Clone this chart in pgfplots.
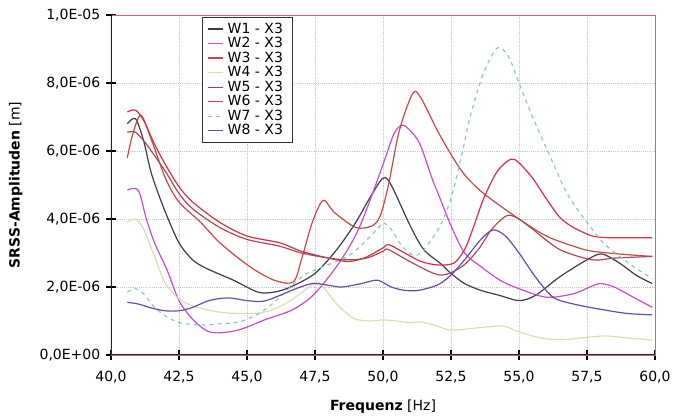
\documentclass[border=0pt]{standalone}
\usepackage{fontspec}
\setmainfont{DejaVu Sans}
\usepackage{pgfplots}
\pgfplotsset{compat=1.18}
\definecolor{wA}{HTML}{3C3C4C}
\definecolor{wB}{HTML}{C050C8}
\definecolor{wC}{HTML}{C84848}
\definecolor{wD}{HTML}{D6E0B0}
\definecolor{wE}{HTML}{D0304A}
\definecolor{wF}{HTML}{A84A5A}
\definecolor{wG}{HTML}{8CC8C0}
\definecolor{wH}{HTML}{6A4AA0}
\definecolor{frameR}{HTML}{D86070}
\begin{document}
\begin{tikzpicture}
\begin{axis}[
  scale only axis, width=408pt, height=255pt,
  xmin=40, xmax=60, ymin=0, ymax=10,
  xtick={40,42.5,...,60}, ytick={0,2,...,10},
  xtick pos=bottom, ytick pos=left,
  yticklabels={{0,0E+00},{2,0E-06},{4,0E-06},{6,0E-06},{8,0E-06},{1,0E-05}},
  tick label style={font=\fontsize{10.5}{12}\selectfont},
  xticklabel style={yshift=-5pt, /pgf/number format/.cd, fixed, fixed zerofill, precision=1, use comma, assume math mode=true},
  yticklabel style={xshift=-1pt},
  tick align=center, major tick length=7pt,
  tick style={black, line width=0.8pt},
  grid=major, major grid style={densely dotted, black!22},
  axis line style={frameR, line width=0.6pt},
  xlabel={\textbf{Frequenz} [Hz]}, ylabel={\textbf{SRSS-Amplituden} [m]},
  label style={font=\fontsize{10.5}{12}\selectfont},
  xlabel style={yshift=-6pt}, ylabel style={yshift=6pt},
  every axis plot/.append style={line width=0.9pt, smooth, tension=0.5},
  legend style={at={(0.167,0.994)}, anchor=north west, draw=black!80, line width=0.8pt,
    fill=white, font=\fontsize{10.5}{12}\selectfont, inner xsep=4pt, inner ysep=2pt, row sep=-2.4pt,
    nodes={inner xsep=3pt}},
  legend cell align=left,
  legend image code/.code={\draw[#1, line width=1pt] (0pt,0pt) -- (11pt,0pt);},
]
\addplot[wA] coordinates {(40.6,6.8) (40.9,6.95) (41.2,6.3) (41.5,5.3) (42.0,4.2) (42.5,3.3) (43.0,2.8) (43.5,2.55) (44.5,2.2) (45.4,1.85) (46.0,1.85) (46.6,2.0) (47.5,2.4) (48.3,3.1) (49.0,3.9) (49.5,4.6) (50.0,5.2) (50.3,5.0) (51.0,3.8) (51.5,3.1) (52.1,2.7) (52.5,2.4) (53.0,2.1) (53.6,1.9) (54.3,1.75) (55.0,1.6) (55.6,1.75) (56.5,2.3) (57.5,2.8) (58.05,2.97) (58.7,2.7) (59.3,2.35) (59.9,2.1)};
\addlegendentry{W1 - X3}
\addplot[wB] coordinates {(40.6,4.85) (41.0,4.85) (41.3,4.0) (41.6,3.3) (42.06,2.5) (42.5,1.6) (43.0,1.05) (43.5,0.72) (43.9,0.65) (44.5,0.7) (45.0,0.82) (45.7,1.05) (46.6,1.3) (47.2,1.6) (47.6,1.9) (48.2,2.5) (48.7,3.1) (49.1,3.7) (49.5,4.5) (50.0,5.6) (50.4,6.5) (50.7,6.76) (51.0,6.6) (51.36,6.2) (51.8,5.2) (52.1,4.6) (52.5,3.8) (53.0,3.0) (53.6,2.6) (54.3,2.2) (55.0,1.95) (56.0,1.7) (57.0,1.8) (57.6,2.0) (58.0,2.1) (58.5,2.0) (59.2,1.7) (59.9,1.4)};
\addlegendentry{W2 - X3}
\addplot[wC] coordinates {(40.6,5.8) (40.8,6.5) (41.1,7.05) (41.5,6.3) (42.0,5.2) (42.5,4.5) (43.3,3.9) (44.0,3.3) (45.1,2.6) (46.0,2.2) (46.7,2.15) (47.0,2.8) (47.4,3.9) (47.8,4.55) (48.2,4.2) (49.0,3.75) (49.6,3.8) (49.9,4.1) (50.2,5.0) (50.6,6.6) (51.1,7.7) (51.4,7.55) (52.0,6.6) (52.5,5.9) (53.0,5.3) (53.7,4.75) (55.0,4.0) (56.0,3.5) (57.0,3.2) (57.7,3.05) (59.0,2.95) (59.9,2.9)};
\addlegendentry{W3 - X3}
\addplot[wD] coordinates {(40.6,3.9) (40.9,4.0) (41.2,3.7) (41.6,2.9) (42.0,2.1) (42.5,1.65) (43.0,1.45) (43.7,1.3) (44.4,1.23) (45.4,1.23) (46.0,1.35) (46.6,1.6) (47.2,1.95) (47.6,2.15) (47.9,1.9) (48.3,1.5) (48.7,1.2) (49.0,1.05) (49.5,1.0) (50.0,1.03) (50.5,1.0) (51.0,0.95) (51.4,0.97) (52.0,0.85) (52.5,0.73) (53.5,0.8) (54.4,0.85) (55.0,0.68) (55.8,0.5) (56.6,0.45) (57.5,0.52) (58.2,0.56) (59.0,0.5) (59.9,0.44)};
\addlegendentry{W4 - X3}
\addplot[wE] coordinates {(40.6,7.15) (40.9,7.2) (41.2,6.9) (41.6,6.2) (42.0,5.6) (42.5,4.95) (43.0,4.5) (44.0,3.9) (45.0,3.5) (46.2,3.3) (47.0,3.05) (48.0,2.85) (48.7,2.75) (49.3,2.85) (50.0,3.15) (50.2,3.25) (50.8,3.0) (51.4,2.75) (52.0,2.65) (52.6,2.7) (53.0,3.1) (53.3,3.7) (53.7,4.6) (54.2,5.4) (54.7,5.76) (55.0,5.65) (55.5,5.2) (56.0,4.6) (56.5,4.05) (57.0,3.75) (57.7,3.5) (58.3,3.45) (59.0,3.45) (59.9,3.45)};
\addlegendentry{W5 - X3}
\addplot[wF] coordinates {(40.6,6.55) (40.9,6.55) (41.3,6.2) (42.0,5.4) (42.5,4.75) (43.0,4.3) (44.0,3.75) (45.0,3.4) (46.2,3.2) (47.0,3.0) (48.0,2.85) (48.7,2.8) (49.4,2.85) (50.0,3.05) (50.2,3.1) (51.1,2.7) (52.1,2.35) (52.9,2.6) (53.5,3.1) (54.0,3.7) (54.56,4.1) (55.0,4.0) (55.5,3.7) (56.5,3.1) (57.7,2.8) (58.5,2.85) (59.9,2.9)};
\addlegendentry{W6 - X3}
\addplot[wG, dashed] coordinates {(40.6,1.85) (40.9,1.95) (41.2,1.8) (41.6,1.4) (42.06,1.12) (42.5,0.95) (43.0,0.9) (43.5,0.88) (44.0,0.92) (44.7,0.97) (45.4,1.2) (46.0,1.55) (46.6,2.0) (47.1,2.35) (47.5,2.5) (47.8,2.6) (48.7,2.9) (49.3,3.3) (49.9,3.8) (50.0,3.9) (50.3,3.7) (50.7,3.2) (51.1,2.94) (51.4,3.0) (51.7,3.3) (52.1,3.8) (52.5,4.6) (52.9,5.9) (53.2,7.0) (53.7,8.3) (54.2,9.03) (54.6,8.8) (55.0,8.0) (55.5,7.0) (56.25,5.65) (56.8,4.7) (57.5,3.9) (58.1,3.3) (58.7,2.9) (59.3,2.55) (59.9,2.25)};
\addlegendentry{W7 - X3}
\addplot[wH] coordinates {(40.6,1.55) (41.0,1.5) (41.5,1.38) (42.0,1.3) (42.5,1.3) (43.0,1.4) (43.6,1.6) (44.3,1.68) (45.0,1.6) (45.6,1.58) (46.2,1.75) (46.8,1.95) (47.4,2.1) (48.0,2.05) (48.5,2.0) (49.2,2.1) (49.8,2.2) (50.3,2.0) (50.8,1.9) (51.3,1.9) (51.8,2.0) (52.1,2.1) (52.5,2.35) (53.0,2.8) (53.6,3.4) (54.05,3.68) (54.5,3.5) (55.0,3.0) (55.6,2.3) (56.25,1.7) (57.0,1.5) (58.1,1.33) (59.0,1.22) (59.9,1.18)};
\addlegendentry{W8 - X3}
\draw[black!85, line width=1.1pt] (rel axis cs:0,1) -- (rel axis cs:0,0) -- (rel axis cs:1,0);
\end{axis}
\pgfresetboundingbox
\path[use as bounding box] (-83.25pt,-45.75pt) rectangle (421.5pt,266.25pt);
\end{tikzpicture}
\end{document}
